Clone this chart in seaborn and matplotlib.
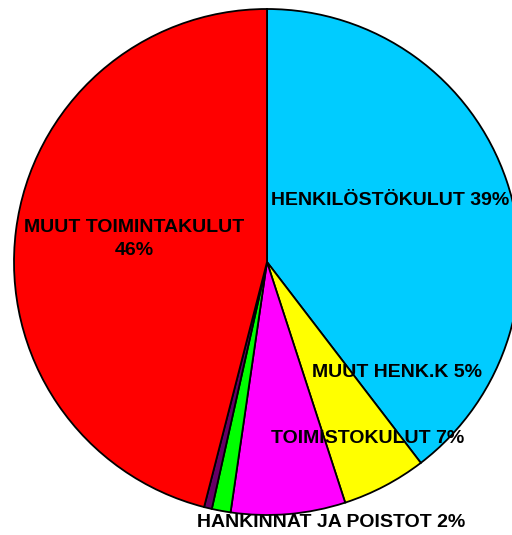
import matplotlib
matplotlib.use("Agg")
import matplotlib.pyplot as plt
import seaborn as sns

categories = ["HENKILÖSTÖKULUT", "MUUT HENK.K", "TOIMISTOKULUT",
              "HANKINNAT JA POISTOT", "MUUT", "MUUT TOIMINTAKULUT"]
values = [39.6, 5.4, 7.3, 1.2, 0.5, 46.0]
label_texts = ["HENKILÖSTÖKULUT 39%", "MUUT HENK.K 5%", "TOIMISTOKULUT 7%",
               "HANKINNAT JA POISTOT 2%", "", "MUUT TOIMINTAKULUT\n46%"]
colors = ["#00CCFF", "#FFFF00", "#FF00FF", "#00FF00", "#660066", "#FF0000"]

# label positions (layout, in units of pie radius)
label_pos = [(0.486, 0.245), (0.514, -0.435), (0.399, -0.696),
             (0.253, -1.028), (0, 0), (-0.526, 0.09)]

sns.set_theme(style="white")
plt.rcParams['font.family'] = ['Liberation Sans', 'DejaVu Sans']

fig = plt.figure(figsize=(5.12, 5.35), dpi=100)
W, H = 512, 535
cx, cy, r = 267, 262, 253
ax = fig.add_axes([(cx - r) / W, (H - cy - r) / H, 2 * r / W, 2 * r / H])
wedges, _ = ax.pie(values, colors=colors, startangle=90, counterclock=False,
                   wedgeprops=dict(edgecolor="black", linewidth=1.3),
                   radius=1.0)
for w in wedges:
    w.set_clip_on(False)
ax.set_xlim(-1, 1)
ax.set_ylim(-1, 1)
ax.set_aspect("auto")
ax.axis("off")

for txt, (x, y) in zip(label_texts, label_pos):
    if txt:
        ax.text(x, y, txt, ha="center", va="center", fontsize=14,
                fontweight="bold", color="black", linespacing=1.5,
                clip_on=False)

fig.savefig("out.png", dpi=100)
